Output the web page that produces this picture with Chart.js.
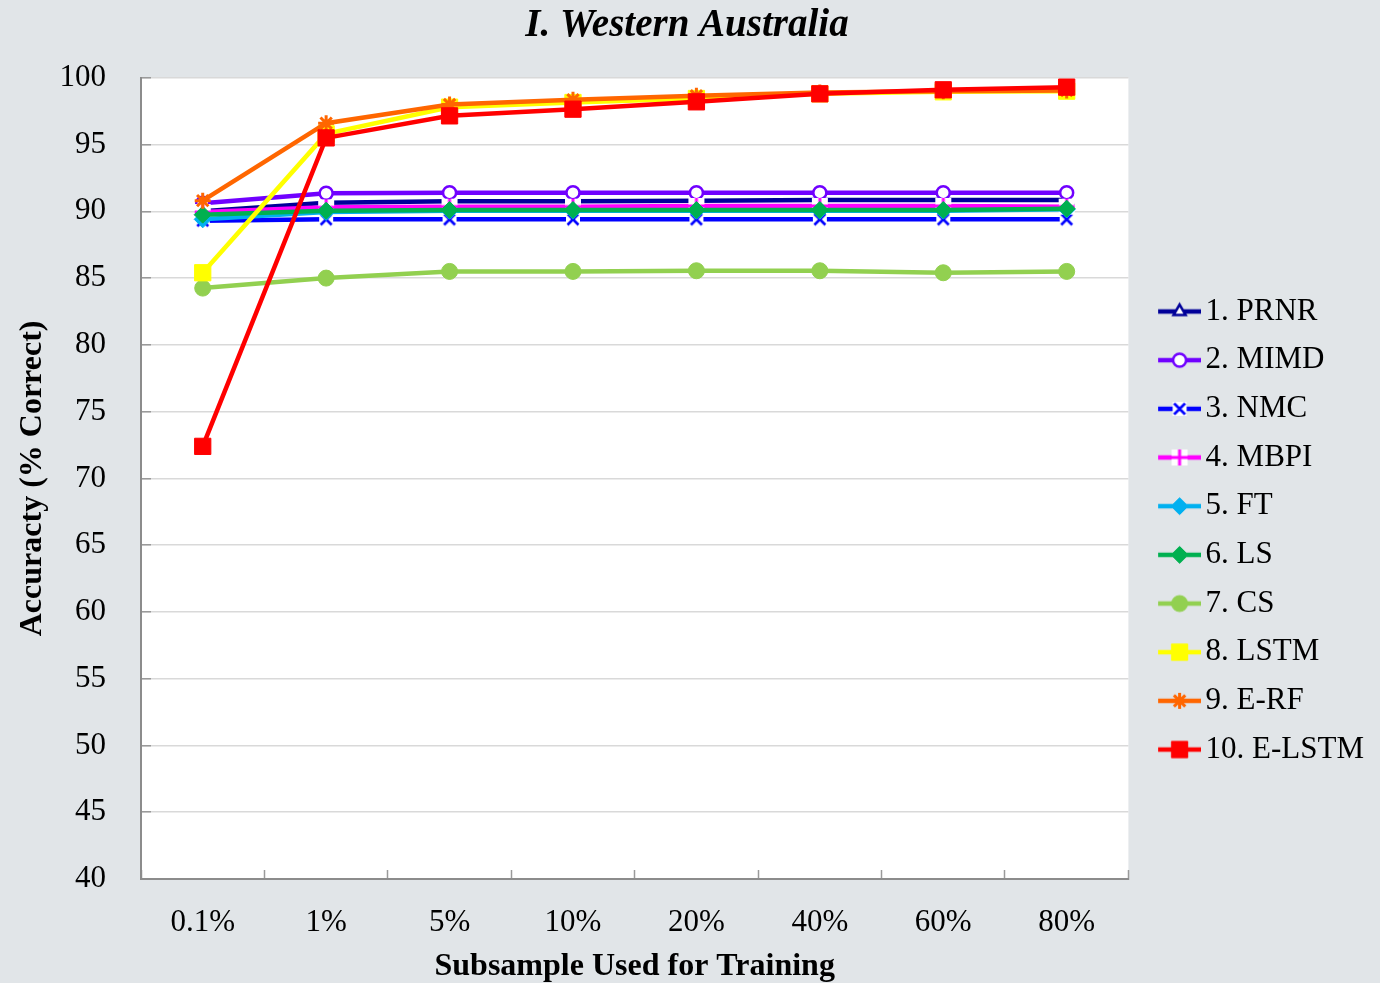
<!DOCTYPE html>
<html><head><meta charset="utf-8">
<script src="https://cdn.jsdelivr.net/npm/chart.js@4/dist/chart.umd.min.js"></script>
<style>html,body{margin:0;padding:0;background:#E1E5E8;} #wrap{width:1380px;height:983px;position:relative;}</style>
</head><body><div id="wrap"><canvas id="c"></canvas></div>
<script>
const categories = ['0.1%', '1%', '5%', '10%', '20%', '40%', '60%', '80%'];
const seriesNames = ['1. PRNR', '2. MIMD', '3. NMC', '4. MBPI', '5. FT', '6. LS', '7. CS', '8. LSTM', '9. E-RF', '10. E-LSTM'];
const prnr  = [90.0, 90.65, 90.75, 90.75, 90.8, 90.85, 90.85, 90.85];
const mimd  = [90.6, 91.35, 91.4, 91.4, 91.4, 91.4, 91.4, 91.4];
const nmc   = [89.3, 89.4, 89.4, 89.4, 89.4, 89.4, 89.4, 89.4];
const mbpi  = [89.95, 90.3, 90.35, 90.35, 90.4, 90.4, 90.4, 90.35];
const ft    = [89.4, 89.95, 90.05, 90.05, 90.05, 90.05, 90.05, 90.15];
const ls    = [89.75, 90.05, 90.1, 90.1, 90.1, 90.1, 90.1, 90.2];
const cs    = [84.25, 85.0, 85.5, 85.5, 85.55, 85.55, 85.4, 85.5];
const lstm  = [85.4, 95.8, 97.8, 98.15, 98.45, 98.8, 98.95, 99.0];
const erf   = [90.8, 96.6, 98.0, 98.35, 98.65, 98.9, 99.0, 99.05];
const elstm = [72.4, 95.5, 97.15, 97.65, 98.2, 98.8, 99.1, 99.3];
const yTicksMin = 40, yTicksMax = 100, yTickStep = 5;

const seriesValues = [prnr, mimd, nmc, mbpi, ft, ls, cs, lstm, erf, elstm];
const colors = ['#000099', '#7000FF', '#0000FF', '#FF00FF', '#00B0F0', '#00B050', '#92D050', '#FFFF00', '#FF6600', '#FF0000'];
const FONT = "'Liberation Serif', 'Times New Roman', serif";

function makeImg(w, h, fn) {
  const c = document.createElement('canvas'); c.width = w; c.height = h;
  fn(c.getContext('2d'), w, h); return c;
}
const nmcImg = makeImg(16, 16, (g) => {
  g.fillStyle = '#fff'; g.fillRect(1, 1, 14, 14);
  g.strokeStyle = '#0000FF'; g.lineWidth = 2.6;
  g.beginPath(); g.moveTo(2.5, 2.5); g.lineTo(13.5, 13.5); g.moveTo(13.5, 2.5); g.lineTo(2.5, 13.5); g.stroke();
});
const mbpiImg = makeImg(18, 18, (g) => {
  g.fillStyle = '#fff'; g.fillRect(1, 1, 16, 16);
  g.strokeStyle = '#FF00FF'; g.lineWidth = 3;
  g.beginPath(); g.moveTo(9, 1); g.lineTo(9, 17); g.moveTo(1, 9); g.lineTo(17, 9); g.stroke();
});

const pStyles = ['triangle', 'circle', nmcImg, mbpiImg, 'rectRot', 'rectRot', 'circle', 'rect', 'star', 'rect'];
const pRadius = [7, 6.5, 8, 9, 8.5, 8.5, 8, 11.5, 8, 11.5];
const pFill   = ['#fff', '#fff', '#fff', '#fff', '#00B0F0', '#00B050', '#92D050', '#FFFF00', '#FF6600', '#FF0000'];
const pBorderW = [2.5, 2.5, 0, 0, 1, 1, 1, 1, 3, 1];

function drawMarker(g, i, x, y) {
  const st = pStyles[i];
  if (typeof st !== 'string') { g.drawImage(st, x - st.width / 2, y - st.height / 2); return; }
  g.fillStyle = pFill[i]; g.strokeStyle = colors[i]; g.lineWidth = pBorderW[i];
  if (Chart.helpers && Chart.helpers.drawPoint) {
    Chart.helpers.drawPoint(g, {pointStyle: st, radius: pRadius[i], borderWidth: pBorderW[i], rotation: 0}, x, y);
  } else {
    g.beginPath(); g.arc(x, y, pRadius[i] * 0.8, 0, Math.PI * 2); g.fill(); g.stroke();
  }
}
const legendImgs = seriesNames.map((n, i) => makeImg(66, 26, (g) => {
  g.strokeStyle = colors[i]; g.lineWidth = 4.5;
  g.beginPath(); g.moveTo(23, 13); g.lineTo(66, 13); g.stroke();
  drawMarker(g, i, 44.5, 13);
}));

const plotBg = {
  id: 'plotBg',
  beforeDraw(chart) {
    const {ctx, chartArea: a} = chart;
    ctx.save(); ctx.fillStyle = '#FFFFFF';
    ctx.fillRect(a.left, a.top, a.right - a.left, a.bottom - a.top);
    ctx.restore();
  }
};

new Chart(document.getElementById('c'), {
  type: 'line',
  data: {
    labels: categories,
    datasets: seriesNames.map((n, i) => ({
      label: n,
      data: seriesValues[i],
      borderColor: colors[i],
      backgroundColor: pFill[i],
      borderWidth: 4.5,
      pointStyle: pStyles[i],
      pointRadius: pRadius[i],
      pointHoverRadius: pRadius[i],
      pointBorderWidth: pBorderW[i],
      pointBorderColor: colors[i],
      pointBackgroundColor: pFill[i],
      tension: 0,
      order: 10 - i,
      clip: false
    }))
  },
  options: {
    responsive: true,
    maintainAspectRatio: false,
    animation: false,
    events: [],
    layout: {padding: {left: 0, right: 6, top: 0, bottom: 0}},
    plugins: {
      tooltip: {enabled: false},
      title: {
        display: true,
        text: 'I. Western Australia',
        color: '#000',
        font: {family: FONT, size: 39, style: 'italic', weight: 'bold'},
        padding: {top: 3, bottom: 28}
      },
      legend: {
        display: true,
        position: 'right',
        align: 'center',
        title: {display: true, text: ' ', font: {size: 10}, padding: {top: 0, bottom: 66}},
        labels: {
          color: '#000',
          font: {family: FONT, size: 31},
          usePointStyle: true,
          pointStyleWidth: 44,
          padding: 17.67,
          generateLabels(chart) {
            const items = Chart.defaults.plugins.legend.labels.generateLabels(chart);
            items.forEach(it => { it.pointStyle = legendImgs[it.datasetIndex]; });
            items.sort((a, b) => a.datasetIndex - b.datasetIndex);
            return items;
          }
        }
      }
    },
    scales: {
      x: {
        type: 'category',
        offset: true,
        afterFit(s) { s.height = 104; },
        grid: {display: true, drawOnChartArea: false, offset: true, drawTicks: true, tickLength: -9, tickColor: '#9A9A9A', tickWidth: 1.5},
        border: {display: true, color: '#8C8C8C', width: 2},
        ticks: {color: '#000', font: {family: FONT, size: 31}, padding: 34, maxRotation: 0, autoSkip: false},
        title: {display: true, text: 'Subsample Used for Training', color: '#000', font: {family: FONT, size: 32, weight: 'bold'}, padding: {top: 0, bottom: -3}}
      },
      y: {
        min: yTicksMin,
        max: yTicksMax,
        afterFit(s) { s.width = 141; },
        grid: {display: true, color: '#D9D9D9', lineWidth: 1.5, drawTicks: true, tickLength: -10, tickColor: '#9A9A9A', tickWidth: 1.5},
        border: {display: true, color: '#8C8C8C', width: 2},
        ticks: {stepSize: yTickStep, color: '#000', font: {family: FONT, size: 31}, padding: 45},
        title: {display: true, text: 'Accuracty (% Correct)', color: '#000', font: {family: FONT, size: 32, weight: 'bold'}, padding: {top: 14, bottom: 0}}
      }
    }
  },
  plugins: [plotBg]
});
</script></body></html>
